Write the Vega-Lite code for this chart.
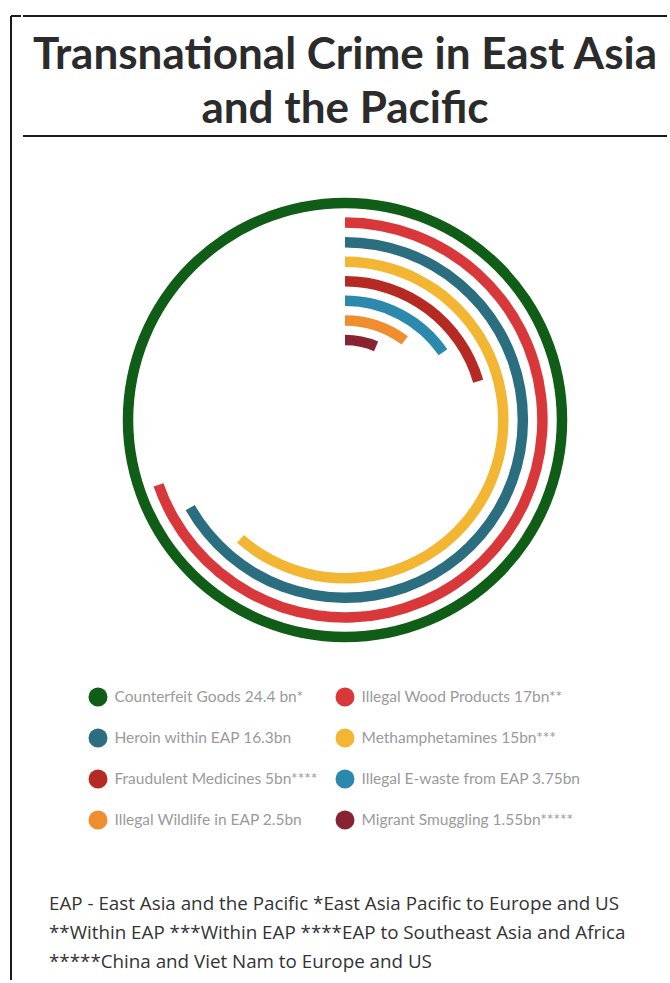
{
  "$schema": "https://vega.github.io/schema/vega-lite/v6.json",
  "background": "white",
  "padding": {"left": 10, "top": 15, "right": 0, "bottom": 0},
  "spacing": 0,
  "config": {"view": {"stroke": null}},
  "datasets": {
    "crimes": [
      {"category": "Counterfeit Goods 24.4 bn*", "value": 24.4},
      {"category": "Illegal Wood Products 17bn**", "value": 17},
      {"category": "Heroin within EAP 16.3bn", "value": 16.3},
      {"category": "Methamphetamines 15bn***", "value": 15},
      {"category": "Fraudulent Medicines 5bn****", "value": 5},
      {"category": "Illegal E-waste from EAP 3.75bn", "value": 3.75},
      {"category": "Illegal Wildlife in EAP 2.5bn", "value": 2.5},
      {"category": "Migrant Smuggling 1.55bn*****", "value": 1.55}
    ]
  },
  "hconcat": [
    {
      "width": 10,
      "height": 964,
      "data": {"values": [{}]},
      "view": {"stroke": "#1a1a1a", "strokeWidth": 2, "strokeDash": [10, 974, 964, 0]},
      "mark": {"type": "text", "text": ""}
    },
    {
      "spacing": 0,
      "bounds": "flush",
      "vconcat": [
        {
          "width": 644,
          "height": 120,
          "data": {"values": [{}]},
          "view": {"stroke": "#1a1a1a", "strokeWidth": 2, "strokeDash": [644, 120, 644, 120]},
          "mark": {
            "type": "text",
            "text": ["Transnational Crime in East Asia", "and the Pacific"],
            "font": "Lato",
            "fontWeight": "bold",
            "fontSize": 44,
            "lineHeight": 54,
            "color": "#2b2b2b",
            "align": "center",
            "baseline": "middle",
            "dy": -20
          }
        },
        {
          "width": 644,
          "height": 568,
          "data": {"name": "crimes"},
          "mark": {"type": "arc", "radiusOffset": 5.25, "radius2Offset": -5.25},
          "encoding": {
            "theta": {
              "field": "value",
              "type": "quantitative",
              "stack": null,
              "scale": {"domain": [0, 24.4], "range": [0, 6.283185307]}
            },
            "theta2": {"datum": 0},
            "radius": {
              "field": "category",
              "type": "nominal",
              "scale": {
                "type": "point",
                "padding": 0,
                "range": [80, 217],
                "domain": [
                  "Migrant Smuggling 1.55bn*****",
                  "Illegal Wildlife in EAP 2.5bn",
                  "Illegal E-waste from EAP 3.75bn",
                  "Fraudulent Medicines 5bn****",
                  "Methamphetamines 15bn***",
                  "Heroin within EAP 16.3bn",
                  "Illegal Wood Products 17bn**",
                  "Counterfeit Goods 24.4 bn*"
                ]
              }
            },
            "radius2": {"field": "category"},
            "color": {
              "field": "category",
              "type": "nominal",
              "scale": {
                "domain": [
                  "Counterfeit Goods 24.4 bn*",
                  "Illegal Wood Products 17bn**",
                  "Heroin within EAP 16.3bn",
                  "Methamphetamines 15bn***",
                  "Fraudulent Medicines 5bn****",
                  "Illegal E-waste from EAP 3.75bn",
                  "Illegal Wildlife in EAP 2.5bn",
                  "Migrant Smuggling 1.55bn*****"
                ],
                "range": ["#0f5d16", "#d9383b", "#2b6e80", "#f2b632", "#b52b24", "#2b89ae", "#f08d2f", "#882432"]
              },
              "legend": {
                "title": null,
                "orient": "none",
                "legendX": 77.5,
                "legendY": 671.5,
                "columns": 2,
                "direction": "horizontal",
                "symbolType": "circle",
                "symbolSize": 361,
                "symbolStrokeWidth": 0,
                "symbolOpacity": 1,
                "labelFont": "Lato",
                "labelFontSize": 15.5,
                "labelColor": "#9a9a9a",
                "labelOffset": 7,
                "labelLimit": 400,
                "rowPadding": 22,
                "columnPadding": 18,
                "padding": 0
              }
            }
          }
        },
        {
          "width": 644,
          "height": 276,
          "data": {"values": [{}]},
          "mark": {"type": "text", "text": ""},
          "title": {
            "text": [
              "EAP - East Asia and the Pacific  *East Asia Pacific to Europe and US",
              "**Within EAP ***Within EAP ****EAP to Southeast Asia and Africa",
              "*****China and Viet Nam to Europe and US"
            ],
            "orient": "bottom",
            "anchor": "start",
            "frame": "group",
            "baseline": "top",
            "offset": -85,
            "dx": 26,
            "font": "Open Sans",
            "fontSize": 18.8,
            "fontWeight": "normal",
            "lineHeight": 29,
            "color": "#333333"
          }
        }
      ]
    }
  ]
}
